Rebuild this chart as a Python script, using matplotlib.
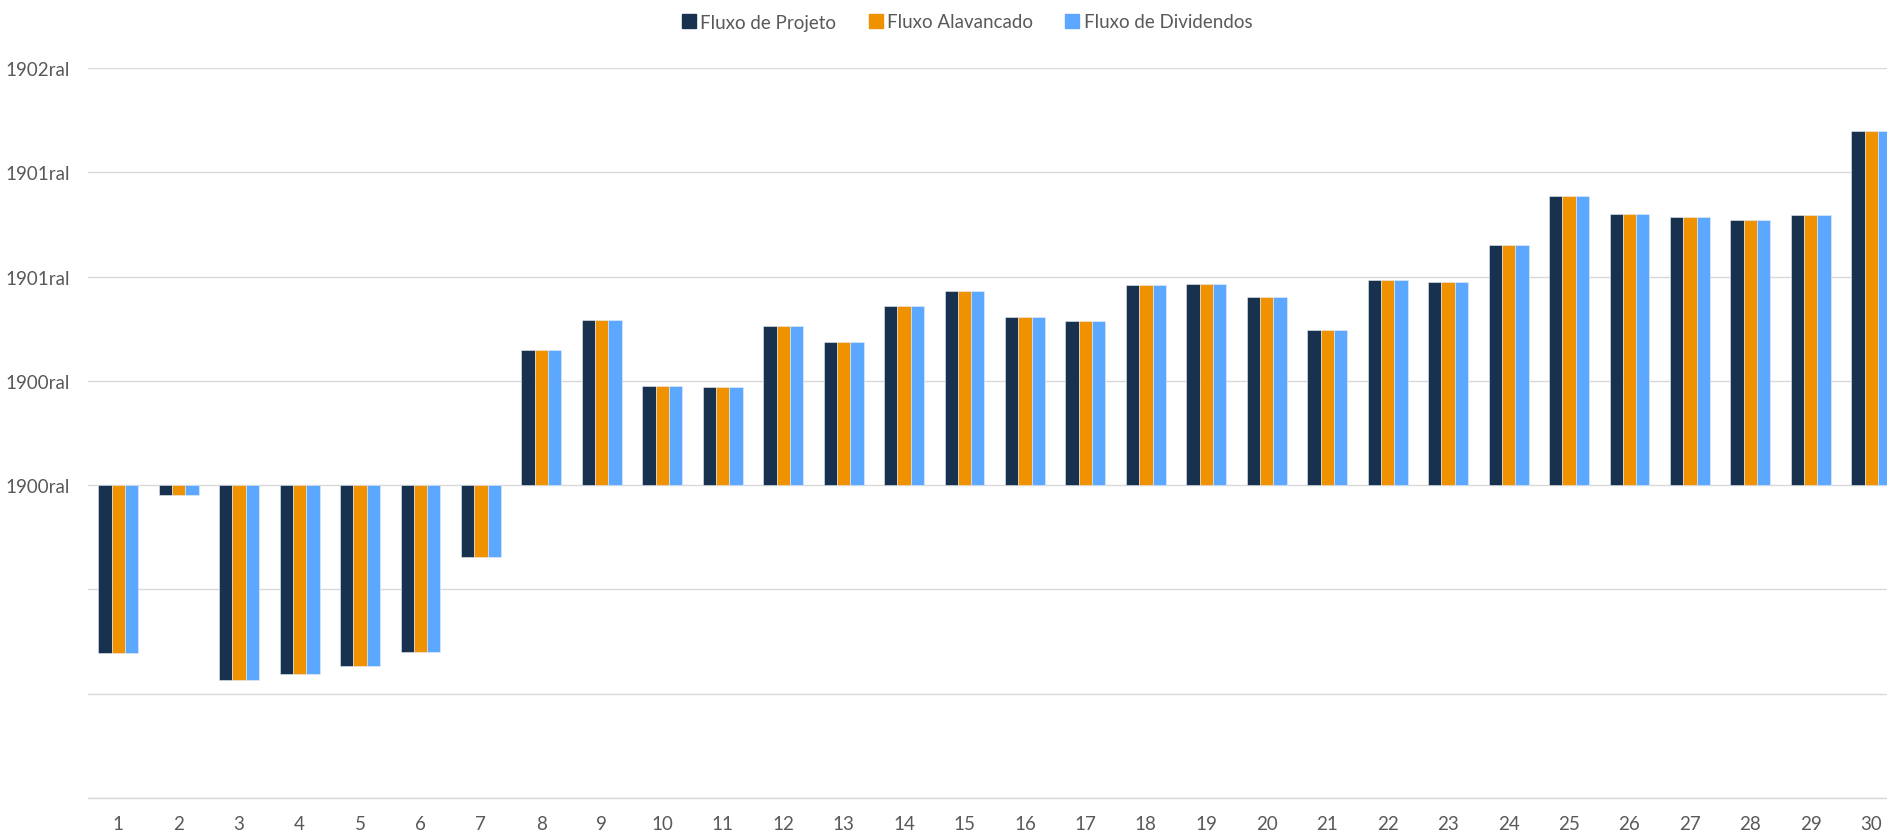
import numpy as np
import matplotlib
matplotlib.use("Agg")
import matplotlib.pyplot as plt
from matplotlib.lines import Line2D

plt.rcParams['font.family'] = ['Lato', 'DejaVu Sans']

# data (in units of one gridline step)
periodos = [str(i) for i in range(1, 31)]
fluxo_projeto = [-1.61, -0.09, -1.87, -1.81, -1.73, -1.60, -0.69, 1.30, 1.58, 0.95,
                 0.945, 1.53, 1.375, 1.715, 1.86, 1.61, 1.57, 1.92, 1.925, 1.80,
                 1.485, 1.97, 1.947, 2.305, 2.773, 2.60, 2.568, 2.546, 2.587, 3.394]
fluxo_alavancado = [-1.61, -0.09, -1.87, -1.81, -1.73, -1.60, -0.69, 1.30, 1.58, 0.95,
                    0.945, 1.53, 1.375, 1.715, 1.86, 1.61, 1.57, 1.92, 1.925, 1.80,
                    1.485, 1.97, 1.947, 2.305, 2.773, 2.60, 2.568, 2.546, 2.587, 3.394]
fluxo_dividendos = [-1.61, -0.09, -1.87, -1.81, -1.73, -1.60, -0.69, 1.30, 1.58, 0.95,
                    0.945, 1.53, 1.375, 1.715, 1.86, 1.61, 1.57, 1.92, 1.925, 1.80,
                    1.485, 1.97, 1.947, 2.305, 2.773, 2.60, 2.568, 2.546, 2.587, 3.394]
y_ticks = [4, 3, 2, 1, 0, -1, -2, -3]
y_labels = ['1902ral', '1901ral', '1901ral', '1900ral', '1900ral', '', '', '']

series = [
    ('Fluxo de Projeto', fluxo_projeto, '#17314F'),
    ('Fluxo Alavancado', fluxo_alavancado, '#F09100'),
    ('Fluxo de Dividendos', fluxo_dividendos, '#5CA7FF'),
]

W, H = 1887, 837
fig = plt.figure(figsize=(W / 100, H / 100), dpi=100)
# plot area runs a little past the right edge, as in the reference
ax = fig.add_axes([88 / W, 1 - 799 / H, 1813.5 / W, (799 - 69) / H])

x = np.arange(1, len(periodos) + 1)
bw = 0.22
for i, (name, vals, col) in enumerate(series):
    ax.bar(x + (i - 1) * bw, vals, width=bw, color=col, edgecolor='#E8EEF5',
           linewidth=0.4, label=name, zorder=3)

ax.set_xlim(0.5, 30.5)
ax.set_ylim(-3, 4)
ax.set_yticks(y_ticks)
ax.set_yticklabels(y_labels)
ax.set_xticks(x)
ax.set_xticklabels(periodos)

ax.grid(axis='y', color='#D9D9D9', linewidth=1.0, zorder=0)
for s in ['top', 'right', 'left']:
    ax.spines[s].set_visible(False)
ax.spines['bottom'].set_color('#D9D9D9')
ax.spines['bottom'].set_linewidth(1.0)
ax.tick_params(axis='both', length=0, colors='#595959', labelsize=13.5)
ax.tick_params(axis='y', pad=13)
ax.tick_params(axis='x', pad=12)

handles = [Line2D([], [], marker='s', linestyle='none', markersize=10,
                  markerfacecolor=c, markeredgecolor=c) for _, _, c in series]
fig.legend(handles, [n for n, _, _ in series], loc='center',
           bbox_to_anchor=(966 / W, 1 - 23 / H), ncol=3, frameon=False,
           fontsize=13.5, labelcolor='#595959', handletextpad=0.1,
           columnspacing=1.6, handlelength=1.0)

fig.savefig('out.png', dpi=100)
